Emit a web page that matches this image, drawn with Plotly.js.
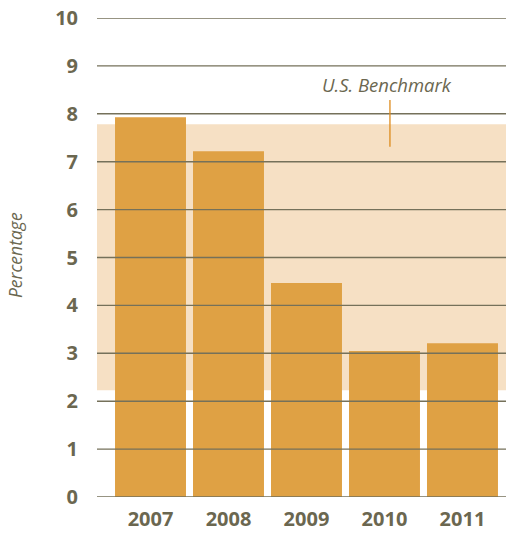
<!DOCTYPE html>
<html>
<head>
<meta charset="utf-8">
<script src="https://cdn.plot.ly/plotly-3.0.1.min.js"></script>
<style>html,body{margin:0;padding:0;background:#fff;}#chart{width:506px;height:534px;}</style>
</head>
<body>
<div id="chart"></div>
<script>
const years = ['2007', '2008', '2009', '2010', '2011'];
const values = [7.93, 7.22, 4.47, 3.05, 3.21];
const benchmarkLow = 2.23;
const benchmarkHigh = 7.78;
const benchmarkLabel = 'U.S. Benchmark';
const yTicks = [0, 1, 2, 3, 4, 5, 6, 7, 8, 9, 10];

const gridColor = '#75715a';
const textColor = '#6b6750';

const shapes = [
  {type: 'rect', xref: 'paper', yref: 'y', x0: 0, x1: 1, y0: benchmarkLow, y1: benchmarkHigh,
   fillcolor: '#f6e0c4', line: {width: 0}, layer: 'below'}
];
yTicks.forEach(t => shapes.push({
  type: 'line', xref: 'paper', yref: 'y', x0: 0, x1: 1, y0: t, y1: t,
  line: {color: gridColor, width: 1.4}, layer: 'above'
}));
shapes.push({type: 'line', xref: 'x', yref: 'y', x0: 3.07, x1: 3.07, y0: 7.31, y1: 8.29,
  line: {color: '#dd8a1c', width: 1.3}, layer: 'above'});

const data = [{
  type: 'bar', x: years, y: values,
  marker: {color: '#dfa144', line: {width: 0}},
  hoverinfo: 'skip'
}];

const layout = {
  width: 506, height: 534,
  margin: {l: 97, r: 0, t: 18, b: 37},
  paper_bgcolor: '#ffffff', plot_bgcolor: 'rgba(0,0,0,0)',
  showlegend: false,
  bargap: 0.09,
  font: {family: 'Open Sans, sans-serif', color: textColor},
  xaxis: {
    type: 'category', range: [-0.686, 4.558], showgrid: false, zeroline: false, showline: false,
    ticks: '', ticklabelstandoff: 8,
    tickfont: {size: 20, color: textColor, family: 'Open Sans, sans-serif', weight: 'bold'}
  },
  yaxis: {
    range: [0, 10], tickvals: yTicks, showgrid: false, zeroline: false, showline: false,
    ticks: '', ticklabelstandoff: 18,
    tickfont: {size: 20, color: textColor, family: 'Open Sans, sans-serif', weight: 'bold'}
  },
  shapes: shapes,
  annotations: [
    {xref: 'paper', yref: 'paper', x: 0, y: 0.505, xshift: -82, xanchor: 'center', yanchor: 'middle',
     text: 'Percentage', textangle: -90,
     showarrow: false, font: {size: 17.5, color: textColor, style: 'italic'}},
    {xref: 'x', yref: 'y', x: 3.03, y: 8.62, xanchor: 'center', yanchor: 'middle', text: benchmarkLabel, showarrow: false,
     font: {size: 18.5, color: textColor, style: 'italic'}}
  ]
};

Plotly.newPlot('chart', data, layout, {displayModeBar: false, staticPlot: true});
</script>
</body>
</html>
